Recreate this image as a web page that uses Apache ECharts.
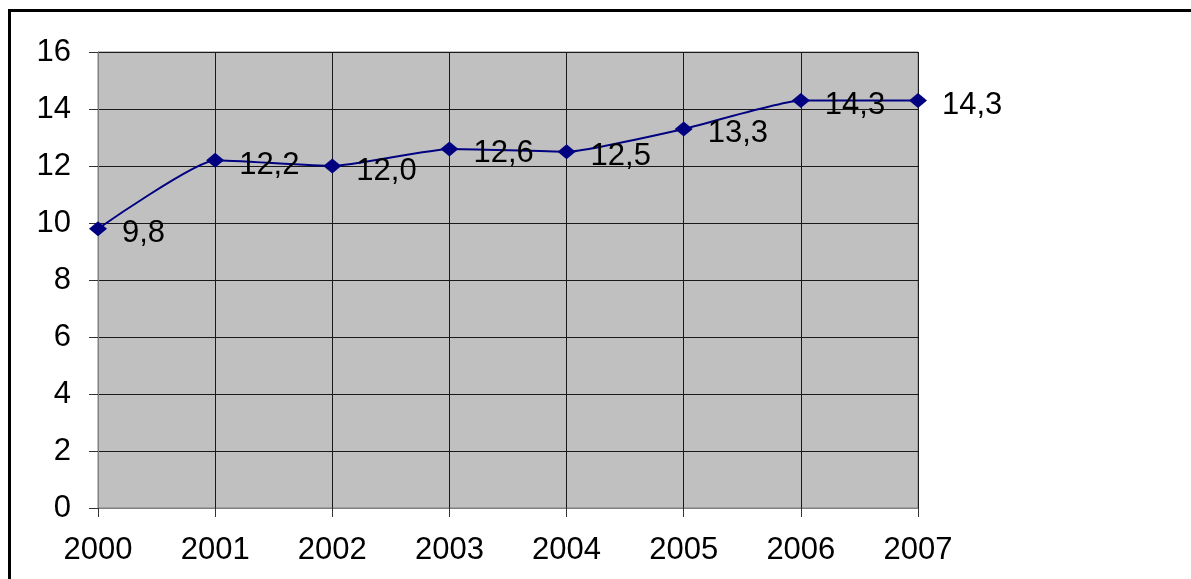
<!DOCTYPE html>
<html>
<head>
<meta charset="utf-8">
<script src="https://cdn.jsdelivr.net/npm/echarts@6/dist/echarts.min.js"></script>
<style>
  html, body { margin: 0; padding: 0; background: #ffffff; }
  #chart { width: 1191px; height: 579px; }
</style>
</head>
<body>
<div id="chart"></div>
<script>
// Years along the horizontal axis
const years = ['2000', '2001', '2002', '2003', '2004', '2005', '2006', '2007'];
// Values per year
const values = [9.8, 12.2, 12.0, 12.6, 12.5, 13.3, 14.3, 14.3];
// Vertical scale
const yMin = 0;
const yMax = 16;
const yStep = 2;

const FONT = 'Liberation Sans, Arial, sans-serif';

const chart = echarts.init(document.getElementById('chart'), null, { renderer: 'canvas' });

chart.setOption({
  backgroundColor: '#ffffff',
  animation: false,
  graphic: [{
    type: 'rect',
    shape: { x: 9.5, y: 10.5, width: 1300, height: 700 },
    style: { fill: 'none', stroke: '#000000', lineWidth: 3 },
    silent: true
  }],
  grid: {
    left: 98, top: 52, width: 820, height: 456,
    show: true,
    backgroundColor: '#C0C0C0',
    borderColor: '#808080',
    borderWidth: 1
  },
  xAxis: {
    type: 'category',
    data: years,
    boundaryGap: false,
    axisLine: { show: true, lineStyle: { color: '#808080', width: 1 } },
    axisTick: { show: true, length: 9, lineStyle: { color: '#333333' } },
    axisLabel: { color: '#000000', fontFamily: FONT, fontSize: 31, margin: 27 },
    splitLine: { show: true, lineStyle: { color: '#1a1a1a', width: 1 } }
  },
  yAxis: {
    type: 'value',
    min: yMin, max: yMax, interval: yStep,
    axisLine: { show: true, lineStyle: { color: '#808080', width: 1 } },
    axisTick: { show: true, length: 9, lineStyle: { color: '#333333' } },
    axisLabel: { color: '#000000', fontFamily: FONT, fontSize: 31, margin: 27 },
    splitLine: { show: true, lineStyle: { color: '#1a1a1a', width: 1 } }
  },
  series: [{
    type: 'line',
    data: values,
    smooth: 0.15,
    symbol: 'diamond',
    symbolSize: [18, 15],
    lineStyle: { color: '#000080', width: 2 },
    itemStyle: { color: '#000080' },
    label: {
      show: true,
      position: 'right',
      distance: 15,
      offset: [0, 5],
      color: '#000000',
      fontFamily: FONT,
      fontSize: 31,
      formatter: p => p.value.toFixed(1).replace('.', ',')
    }
  }]
});
</script>
</body>
</html>
